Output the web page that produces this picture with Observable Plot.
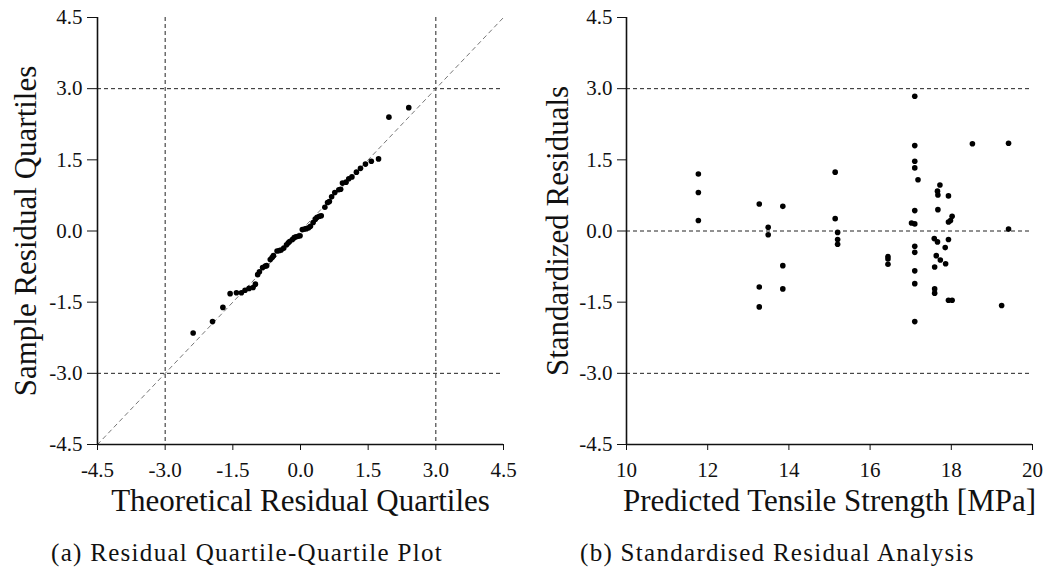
<!DOCTYPE html>
<html>
<head>
<meta charset="utf-8">
<script src="https://cdn.jsdelivr.net/npm/d3@7"></script>
<script src="https://cdn.jsdelivr.net/npm/@observablehq/plot@0.6"></script>
<style>
  html, body { margin: 0; padding: 0; background: #fff; }
  #wrap { position: relative; width: 1048px; height: 575px; overflow: hidden; font-family: "Liberation Serif", serif; }
  #plots { display: flex; position: absolute; left: 0; top: 0; }
  .cap { position: absolute; top: 538px; font-family: "Liberation Serif", serif; font-size: 25px; line-height: 30px; letter-spacing: 1.3px; color: #111; white-space: nowrap; }
  svg text { font-family: "Liberation Serif", serif !important; }
  g[aria-label="y-axis label"] text { font-size: 31px; }
  g[aria-label="x-axis label"] text { font-size: 31px; }
  svg { overflow: visible; }
</style>
</head>
<body>
<div id="wrap">
  <div id="plots"></div>
  <div class="cap" id="capA" style="left:51px">(a) Residual Quartile-Quartile Plot</div>
  <div class="cap" id="capB" style="left:580px">(b) Standardised Residual Analysis</div>
</div>
<script>
// ---------- data ----------
// (a) Q-Q plot: theoretical vs sample residual quantiles
const qqTheoretical = [-2.38,-1.95,-1.72,-1.56,-1.42,-1.31,-1.23,-1.14,-1.05,-1.00,-0.95,-0.91,-0.84,-0.78,-0.75,-0.67,-0.63,-0.60,-0.52,-0.47,-0.43,-0.37,-0.31,-0.27,-0.24,-0.18,-0.14,-0.10,-0.05,-0.01,0.04,0.09,0.13,0.18,0.22,0.28,0.33,0.37,0.42,0.46,0.54,0.60,0.64,0.69,0.76,0.85,0.89,0.93,1.01,1.07,1.14,1.24,1.33,1.44,1.57,1.73,1.96,2.40];
const qqSample      = [-2.15,-1.91,-1.61,-1.32,-1.30,-1.30,-1.25,-1.21,-1.19,-1.12,-0.92,-0.86,-0.77,-0.74,-0.73,-0.60,-0.56,-0.52,-0.42,-0.41,-0.40,-0.36,-0.29,-0.25,-0.22,-0.18,-0.14,-0.12,-0.11,-0.10,0.03,0.04,0.05,0.07,0.10,0.18,0.25,0.29,0.31,0.32,0.50,0.60,0.62,0.72,0.81,0.87,0.88,1.01,1.03,1.10,1.14,1.24,1.32,1.41,1.47,1.52,2.40,2.60];

// (b) standardized residuals vs predicted tensile strength
const predicted = [11.77,11.77,11.77, 13.27,13.27,13.27, 13.49,13.49, 13.85,13.85,13.85, 15.14,15.14, 15.20,15.20,15.20, 16.44,16.44,16.44,
  17.10,17.10,17.10,17.10,17.10,17.10,17.10,17.10,17.10,17.10,17.10, 17.18, 17.02,
  17.72, 17.66, 17.67,17.67, 17.93,17.93,17.93,17.93, 18.02,18.02, 17.98, 17.58, 17.66, 17.85, 17.63, 17.73, 17.86, 17.59,17.59,17.59,
  18.52, 19.24, 19.41,19.41];
const stdResidual = [1.20,0.81,0.22, 0.57,-1.18,-1.60, 0.08,-0.08, 0.52,-0.73,-1.22, 1.24,0.26, -0.03,-0.18,-0.28, -0.54,-0.59,-0.70,
  2.84,1.80,1.47,1.33,0.43,0.15,-0.32,-0.45,-0.84,-1.11,-1.91, 1.08, 0.17,
  0.97, 0.84, 0.76,0.45, 0.74,0.19,-0.18,-1.46, 0.31,-1.46, 0.22, -0.16, -0.23, -0.35, -0.52, -0.61, -0.69, -0.76,-1.22,-1.31,
  1.84, -1.57, 1.85,0.04];

// axes
const resTicks = [-4.5,-3.0,-1.5,0.0,1.5,3.0,4.5];
const resDomain = [-4.5, 4.5];
const predTicks = [10,12,14,16,18,20];
const predDomain = [10, 20];
const qqGuides = [-3, 3];
const resGuides = [-3, 0, 3];

const qqData = qqTheoretical.map((x, i) => ({x, y: qqSample[i]}));
const resData = predicted.map((x, i) => ({x, y: stdResidual[i]}));
const diag = resDomain.map(v => ({x: v, y: v}));

const fmt1 = d => d.toFixed(1);
const font = "Liberation Serif, serif";
const dash = {stroke: "#222", strokeWidth: 1, strokeDasharray: "4,3"};
const tickFont = 21;

const plotA = Plot.plot({
  width: 524, height: 520,
  marginLeft: 97, marginRight: 21, marginTop: 17, marginBottom: 76,
  style: {fontFamily: font, fontSize: "21px", color: "#111", background: "white"},
  x: {domain: resDomain},
  y: {domain: resDomain},
  marks: [
    Plot.ruleY(qqGuides, dash),
    Plot.ruleX(qqGuides, dash),
    Plot.line(diag, {x: "x", y: "y", stroke: "#666", strokeWidth: 0.9, strokeDasharray: "4,4"}),
    Plot.dot(qqData, {x: "x", y: "y", r: 2.8, fill: "#000", stroke: "none"}),
    Plot.ruleY([resDomain[0]], {stroke: "#111", strokeWidth: 1.6}),
    Plot.ruleX([resDomain[0]], {stroke: "#111", strokeWidth: 1.6}),
    Plot.axisX({ticks: resTicks, tickFormat: fmt1, tickSize: 6, tickPadding: 12, fontSize: tickFont, fontFamily: font,
      label: "Theoretical Residual Quartiles", labelAnchor: "center", labelArrow: "none", labelOffset: 66}),
    Plot.axisY({ticks: resTicks, tickFormat: fmt1, tickSize: 10, tickPadding: 5, fontSize: tickFont, fontFamily: font,
      label: "Sample Residual Quartiles", labelAnchor: "center", labelArrow: "none", labelOffset: 84})
  ]
});

const plotB = Plot.plot({
  width: 524, height: 520,
  marginLeft: 102, marginRight: 16, marginTop: 17, marginBottom: 76,
  style: {fontFamily: font, fontSize: "21px", color: "#111", background: "white"},
  x: {domain: predDomain},
  y: {domain: resDomain},
  marks: [
    Plot.ruleY(resGuides, dash),
    Plot.dot(resData, {x: "x", y: "y", r: 2.8, fill: "#000", stroke: "none"}),
    Plot.ruleY([resDomain[0]], {stroke: "#111", strokeWidth: 1.6}),
    Plot.ruleX([predDomain[0]], {stroke: "#111", strokeWidth: 1.6}),
    Plot.axisX({ticks: predTicks, tickFormat: d => String(d), tickSize: 6, tickPadding: 12, fontSize: tickFont, fontFamily: font,
      label: "Predicted Tensile Strength [MPa]", labelAnchor: "center", labelArrow: "none", labelOffset: 66}),
    Plot.axisY({ticks: resTicks, tickFormat: fmt1, tickSize: 9, tickPadding: 5, fontSize: tickFont, fontFamily: font,
      label: "Standardized Residuals", labelAnchor: "center", labelArrow: "none", labelOffset: 81})
  ]
});

document.getElementById("plots").append(plotA, plotB);
</script>
</body>
</html>
